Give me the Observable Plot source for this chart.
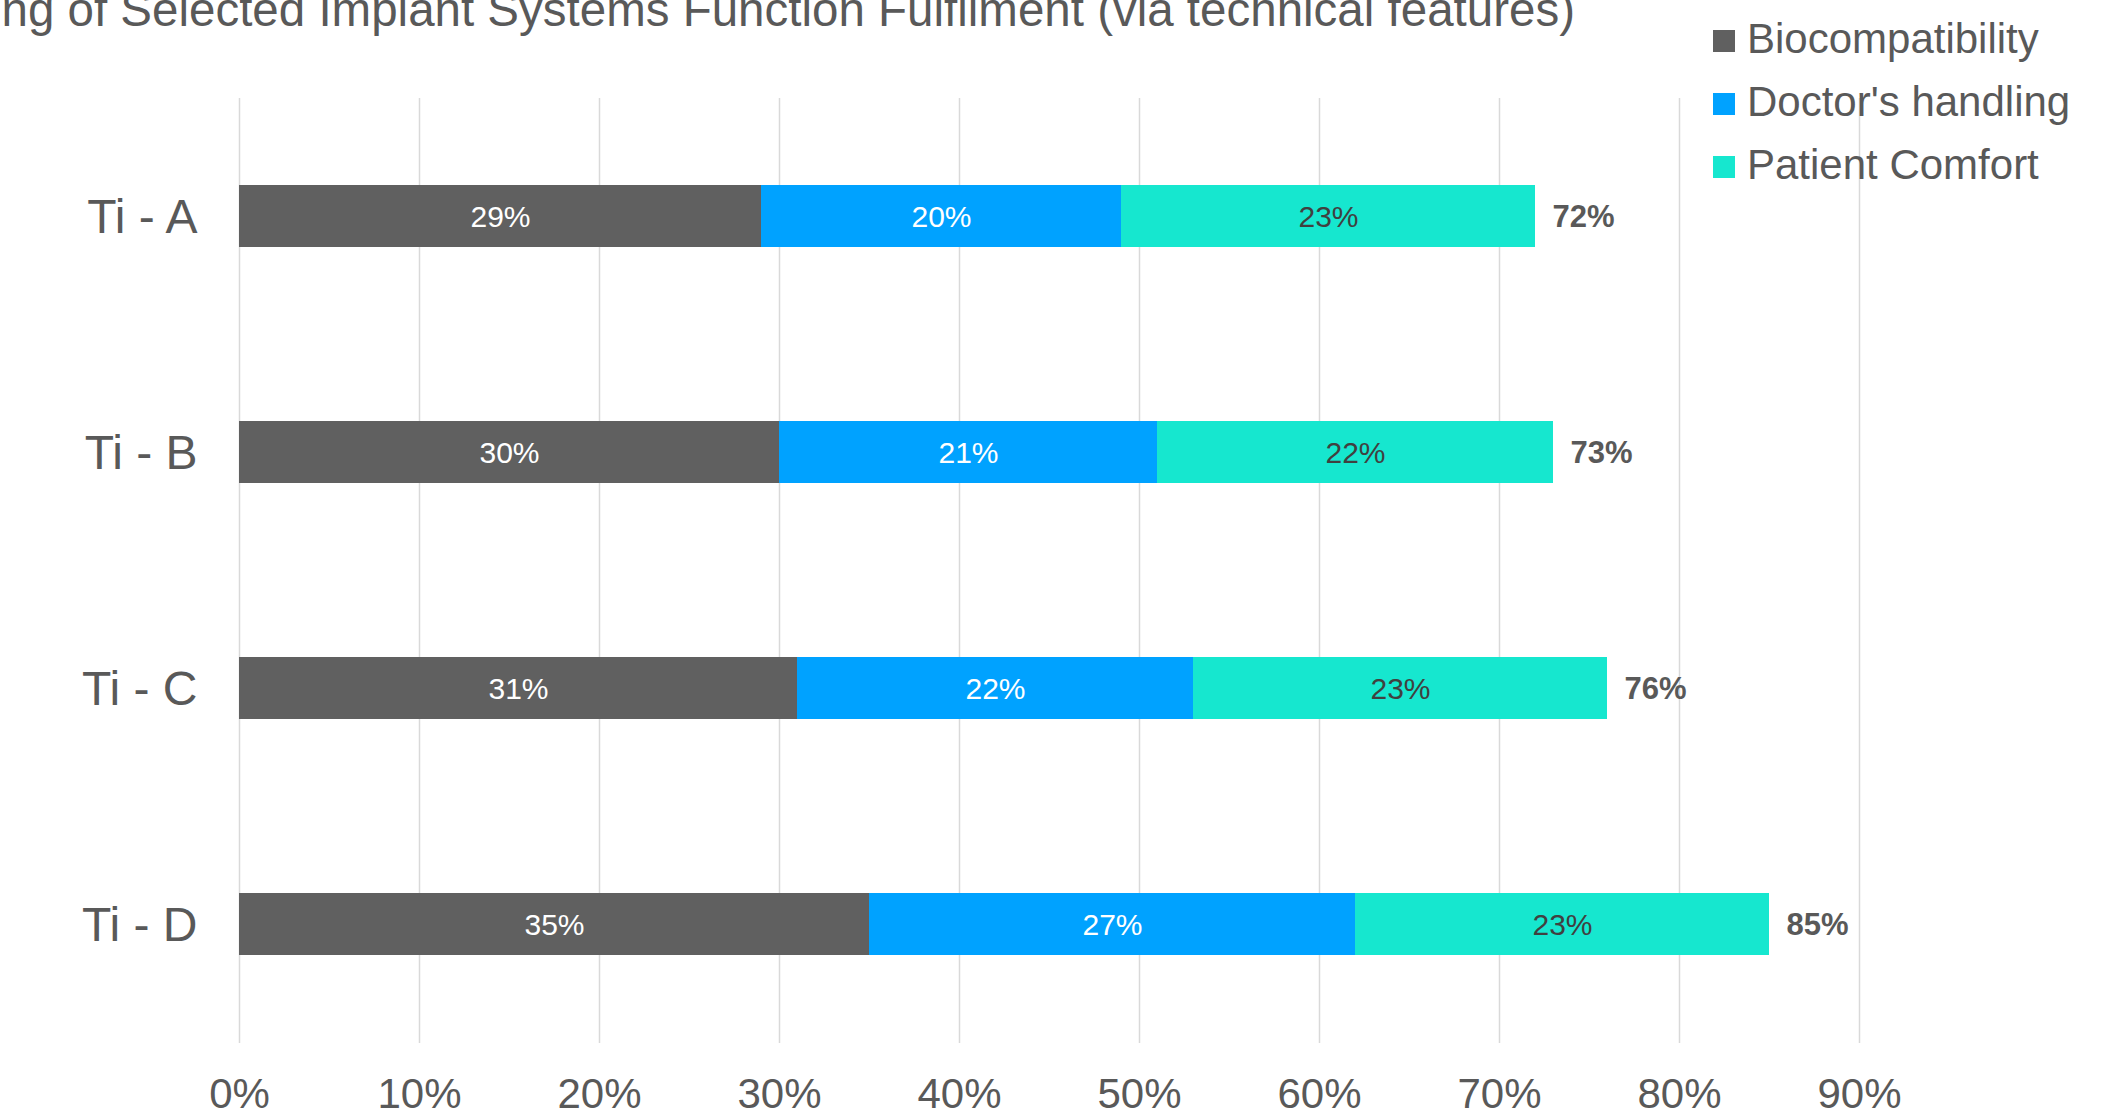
<!DOCTYPE html>
<html><head><meta charset="utf-8">
<script src="https://cdn.jsdelivr.net/npm/d3@7"></script>
<script src="https://cdn.jsdelivr.net/npm/@observablehq/plot@0.6"></script>
<style>
html,body{margin:0;padding:0;background:#fff;overflow:hidden;}
#wrap{position:relative;width:2106px;height:1119px;overflow:hidden;font-family:"Liberation Sans",Arial,sans-serif;color:#595959;background:#fff;}
#chart{position:absolute;left:0;top:0;}
#title{position:absolute;right:531px;top:-14px;font-size:47.5px;line-height:47.5px;white-space:nowrap;}
#legend{position:absolute;left:1713px;top:7px;}
.row{display:flex;align-items:center;height:63px;font-size:42px;white-space:nowrap;}
.sw{width:22px;height:22px;margin-right:12px;position:relative;top:2px;flex:none;}
</style></head><body>
<div id="wrap"><div id="chart"></div><div id="title">Ranking of Selected Implant Systems Function Fulfilment (via technical features)</div><div id="legend"></div></div>
<script>
const systems = ["Ti - A", "Ti - B", "Ti - C", "Ti - D"];
const seriesNames = ["Biocompatibility", "Doctor's handling", "Patient Comfort"];
const biocompatibility = [0.29, 0.30, 0.31, 0.35];
const doctorsHandling = [0.20, 0.21, 0.22, 0.27];
const patientComfort = [0.23, 0.22, 0.23, 0.23];
const totals = [0.72, 0.73, 0.76, 0.85];
const xTicks = [0, 0.1, 0.2, 0.3, 0.4, 0.5, 0.6, 0.7, 0.8, 0.9];
const colors = ["#606060", "#00A2FF", "#16E7CF"];

const seriesValues = [biocompatibility, doctorsHandling, patientComfort];
const data = [];
systems.forEach((s, i) => {
  seriesNames.forEach((n, j) => data.push({system: s, series: n, value: seriesValues[j][i]}));
});
const totalData = systems.map((s, i) => ({system: s, total: totals[i]}));
const pct = d => Math.round(d * 100) + "%";
const font = "Liberation Sans, Arial, sans-serif";
const dark = "Patient Comfort";

const chart = Plot.plot({
  width: 2106,
  height: 1119,
  marginLeft: 239,
  marginRight: 247,
  marginTop: 98,
  marginBottom: 76,
  style: {fontFamily: font, color: "#595959", background: "white", overflow: "visible"},
  x: {domain: [0, 0.9]},
  y: {domain: systems, paddingInner: 0.737, paddingOuter: 0.3685},
  color: {domain: seriesNames, range: colors},
  marks: [
    Plot.gridX(xTicks, {stroke: "#d9d9d9", strokeOpacity: 1, strokeWidth: 1.5}),
    Plot.barX(data, Plot.stackX({x: "value", y: "system", fill: "series"})),
    Plot.text(data, Plot.stackX({x: "value", y: "system", text: d => d.series === dark ? "" : pct(d.value),
      fill: "white", fontSize: 30, dy: 1})),
    Plot.text(data, Plot.stackX({x: "value", y: "system", text: d => d.series === dark ? pct(d.value) : "",
      fill: "#404040", fontSize: 30, dy: 1})),
    Plot.text(totalData, {x: "total", y: "system", text: d => pct(d.total), textAnchor: "start", dx: 17, dy: 1,
      fontWeight: "bold", fontSize: 31, fill: "#595959"}),
    Plot.axisX({ticks: xTicks, tickFormat: pct, tickSize: 0, tickPadding: 35, fontSize: 42, label: null}),
    Plot.axisY({tickSize: 0, tickPadding: 42, fontSize: 48, label: null, dy: 1})
  ]
});
document.getElementById("chart").appendChild(chart);

const legend = document.getElementById("legend");
seriesNames.forEach((n, i) => {
  const row = document.createElement("div");
  row.className = "row";
  const sw = document.createElement("span");
  sw.className = "sw";
  sw.style.background = colors[i];
  const t = document.createElement("span");
  t.textContent = n;
  row.appendChild(sw);
  row.appendChild(t);
  legend.appendChild(row);
});
</script>
</body></html>
